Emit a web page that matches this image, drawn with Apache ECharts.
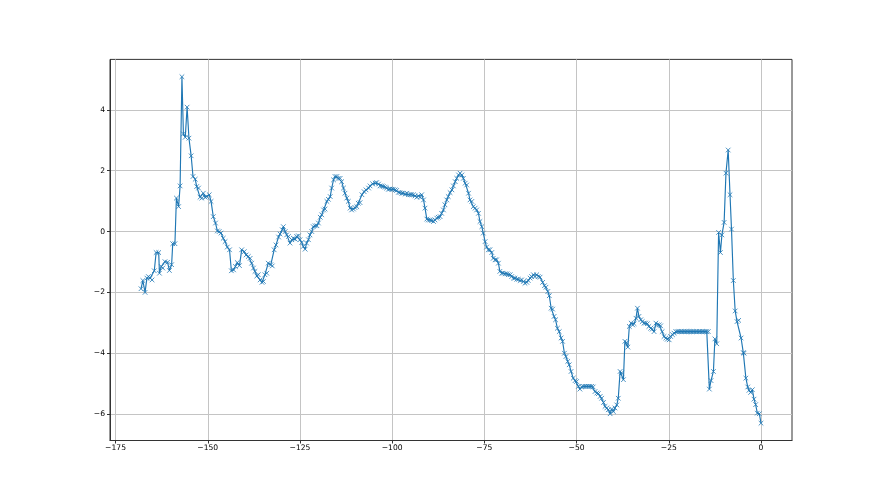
<!DOCTYPE html>
<html>
<head>
<meta charset="utf-8">
<script src="https://cdn.jsdelivr.net/npm/echarts@6/dist/echarts.min.js"></script>
<style>html,body{margin:0;padding:0;background:#fff;}#c{width:880px;height:495px;}</style>
</head>
<body>
<div id="c"></div>
<script>
const xs = [
-168.1,-167.6,-167.0,-166.5,-166.1,-165.6,-165.1,-164.5,-164.0,-163.3,-163.1,-162.6,-162.2,-161.6,-160.9,-160.4,-159.8,-159.5,-158.9,-158.5,
-157.9,-157.5,-157.0,-156.6,-156.1,-155.6,-155.1,-154.5,-154.0,-153.4,-153.0,-152.5,-152.1,-151.6,-151.2,-150.7,-150.3,-149.6,-149.1,-148.5,
-147.9,-147.4,-146.9,-146.4,-145.8,-145.3,-144.7,-144.1,-143.6,-143.0,-142.5,-142.0,-141.4,-140.8,-140.1,-139.6,-139.0,-138.5,-138.1,-137.6,
-137.2,-136.7,-136.3,-135.8,-135.3,-134.9,-134.5,-134.0,-133.6,-132.9,-132.5,-132.0,-131.5,-130.8,-130.4,-129.8,-129.5,-129.0,-128.6,-128.1,
-127.7,-127.2,-126.8,-126.3,-125.9,-125.4,-125.0,-124.5,-124.1,-123.6,-123.2,-122.7,-122.3,-121.8,-121.4,-120.9,-120.4,-120.0,-119.5,-119.1,
-118.6,-118.2,-117.7,-117.3,-116.8,-116.4,-115.9,-115.5,-115.0,-114.6,-114.1,-113.7,-113.2,-112.8,-112.3,-111.9,-111.4,-111.0,-110.5,-110.1,
-109.6,-109.2,-108.7,-108.2,-107.6,-107.1,-106.4,-106.0,-105.3,-104.6,-104.2,-103.7,-103.3,-102.8,-102.4,-101.9,-101.5,-101.0,-100.6,-100.1,
-99.7,-99.2,-98.8,-98.3,-97.9,-97.4,-97.0,-96.5,-96.0,-95.6,-95.1,-94.7,-94.2,-93.8,-93.3,-92.9,-92.4,-92.0,-91.5,-91.1,
-90.6,-90.2,-89.7,-89.3,-88.8,-88.4,-87.9,-87.5,-87.0,-86.6,-86.1,-85.7,-85.2,-84.8,-84.3,-83.8,-83.4,-82.9,-82.5,-82.0,
-81.6,-81.1,-80.7,-80.2,-79.8,-79.3,-78.9,-78.4,-78.0,-77.5,-77.1,-76.6,-76.2,-75.7,-75.3,-74.8,-74.4,-73.9,-73.5,-73.0,
-72.6,-72.1,-71.7,-71.2,-70.8,-70.3,-69.9,-69.4,-68.9,-68.5,-68.0,-67.6,-67.1,-66.7,-66.2,-65.8,-65.3,-64.9,-64.4,-64.0,
-63.5,-63.1,-62.6,-62.2,-61.7,-61.3,-60.8,-60.4,-59.9,-59.2,-58.7,-58.3,-57.8,-57.4,-56.9,-56.5,-56.1,-55.7,-55.2,-54.7,
-54.2,-53.8,-53.3,-52.9,-52.4,-52.0,-51.5,-50.9,-50.4,-50.0,-49.5,-49.1,-48.6,-48.2,-47.7,-47.3,-46.8,-46.4,-45.9,-45.5,
-45.0,-44.5,-44.1,-43.6,-43.2,-42.7,-42.3,-41.8,-41.4,-40.9,-40.5,-40.0,-39.6,-39.1,-38.7,-38.2,-37.8,-37.3,-36.9,-36.4,
-36.1,-35.7,-35.2,-34.8,-34.4,-33.9,-33.5,-33.1,-32.6,-32.2,-31.7,-31.3,-30.8,-30.4,-29.9,-29.5,-29.0,-28.5,-28.1,-27.6,
-27.2,-26.8,-26.3,-25.8,-25.4,-24.9,-24.5,-24.0,-23.6,-23.1,-22.7,-22.3,-21.9,-21.5,-21.1,-20.7,-20.3,-19.9,-19.5,-19.1,
-18.7,-18.3,-17.9,-17.5,-17.1,-16.7,-16.3,-15.9,-15.5,-15.1,-14.7,-14.3,-14.0,-13.55,-12.9,-12.5,-12.0,-11.5,-11.0,-10.6,
-10.0,-9.5,-8.9,-8.4,-8.0,-7.5,-7.0,-6.5,-6.05,-5.4,-4.8,-4.6,-4.1,-3.6,-3.25,-2.8,-2.35,-1.9,-1.45,-1.0,
-0.45,0.0
];
const ys = [
-1.88,-1.61,-2.00,-1.53,-1.48,-1.53,-1.59,-1.29,-0.69,-0.69,-1.37,-1.15,-1.20,-0.99,-1.01,-1.28,-1.09,-0.40,-0.40,1.10,
0.82,1.50,5.09,3.21,3.10,4.09,3.07,2.49,1.81,1.72,1.48,1.43,1.13,1.10,1.26,1.13,1.15,1.21,0.99,0.49,
0.28,0.02,0.00,-0.05,-0.22,-0.33,-0.51,-0.60,-1.29,-1.26,-1.15,-1.02,-1.12,-0.60,-0.66,-0.77,-0.82,-0.88,-1.04,-1.20,
-1.31,-1.46,-1.42,-1.59,-1.67,-1.64,-1.42,-1.37,-1.04,-1.09,-1.13,-0.60,-0.44,-0.18,-0.08,0.06,0.16,0.00,-0.11,-0.16,
-0.38,-0.27,-0.22,-0.25,-0.16,-0.14,-0.27,-0.36,-0.49,-0.58,-0.38,-0.27,-0.11,0.00,0.16,0.19,0.19,0.28,0.47,0.55,
0.71,0.74,0.99,1.06,1.15,1.43,1.70,1.81,1.81,1.75,1.75,1.64,1.43,1.26,1.10,0.99,0.77,0.71,0.74,0.79,
0.82,0.93,0.95,1.21,1.31,1.37,1.43,1.50,1.57,1.59,1.61,1.56,1.50,1.50,1.48,1.46,1.43,1.39,1.40,1.39,
1.39,1.37,1.35,1.29,1.28,1.26,1.26,1.23,1.26,1.21,1.21,1.21,1.21,1.17,1.13,1.17,1.13,1.21,1.04,0.77,
0.41,0.38,0.38,0.36,0.33,0.38,0.44,0.47,0.49,0.60,0.71,0.88,1.04,1.15,1.28,1.37,1.50,1.64,1.75,1.86,
1.92,1.86,1.75,1.59,1.53,1.26,1.04,0.99,0.82,0.77,0.71,0.60,0.33,0.16,-0.05,-0.33,-0.51,-0.60,-0.60,-0.69,
-0.88,-0.93,-0.93,-1.04,-1.31,-1.37,-1.37,-1.39,-1.39,-1.42,-1.42,-1.48,-1.53,-1.53,-1.57,-1.57,-1.61,-1.59,-1.64,-1.70,
-1.67,-1.61,-1.53,-1.48,-1.42,-1.48,-1.42,-1.48,-1.50,-1.67,-1.78,-1.83,-1.97,-2.11,-2.52,-2.55,-2.79,-2.90,-3.18,-3.29,
-3.50,-3.61,-4.00,-4.11,-4.27,-4.38,-4.60,-4.82,-4.90,-4.93,-5.09,-5.18,-5.11,-5.09,-5.09,-5.09,-5.09,-5.09,-5.09,-5.11,
-5.26,-5.31,-5.33,-5.42,-5.48,-5.62,-5.75,-5.80,-5.86,-5.99,-5.84,-5.92,-5.80,-5.70,-5.48,-4.60,-4.65,-4.87,-3.61,-3.65,
-3.80,-3.12,-3.01,-3.07,-3.03,-2.85,-2.52,-2.79,-2.90,-2.96,-3.01,-3.01,-3.03,-3.12,-3.18,-3.21,-3.29,-3.01,-3.07,-3.07,
-3.10,-3.29,-3.45,-3.50,-3.54,-3.56,-3.45,-3.39,-3.34,-3.29,-3.29,-3.29,-3.29,-3.29,-3.29,-3.29,-3.29,-3.29,-3.29,-3.29,
-3.29,-3.29,-3.29,-3.29,-3.29,-3.29,-3.29,-3.29,-3.29,-3.29,-3.29,-3.29,-5.18,-4.90,-4.60,-3.53,-3.69,-0.03,-0.69,-0.11,
0.30,1.92,2.68,1.21,0.08,-1.61,-2.61,-2.96,-2.92,-3.50,-3.98,-4.00,-4.82,-5.11,-5.22,-5.29,-5.20,-5.51,-5.69,-5.97,
-5.99,-6.30
];
const xTicks = [-175, -150, -125, -100, -75, -50, -25, 0];
const yTicks = [-6, -4, -2, 0, 2, 4];

const data = xs.map((x, i) => [x, ys[i]]);
const xMinD = Math.min(...xs), xMaxD = Math.max(...xs);
const yMinD = Math.min(...ys), yMaxD = Math.max(...ys);
const mx = (xMaxD - xMinD) * 0.05, my = (yMaxD - yMinD) * 0.05;
const fmt = v => String(Math.round(v)).replace('-', '\u2212');

const axisCol = '#333';
const font = 'DejaVu Sans';
const chart = echarts.init(document.getElementById('c'), null, {renderer: 'canvas'});
chart.setOption({
  animation: false,
  backgroundColor: '#fff',
  grid: {left: 110, right: 88, top: 59.4, bottom: 54.5, show: true, borderColor: axisCol, borderWidth: 1, backgroundColor: 'transparent'},
  xAxis: {
    type: 'value', min: xMinD - mx, max: xMaxD + mx,
    axisLine: {show: true, onZero: false, lineStyle: {color: axisCol, width: 1}},
    axisTick: {show: true, length: 3, customValues: xTicks, lineStyle: {color: axisCol, width: 1}},
    axisLabel: {customValues: xTicks, formatter: fmt, color: '#000', fontFamily: font, fontSize: 7.6, margin: 4},
    splitLine: {show: true, lineStyle: {color: '#c4c4c4', width: 1}}
  },
  yAxis: {
    type: 'value', min: yMinD - my, max: yMaxD + my,
    axisLine: {show: true, onZero: false, lineStyle: {color: axisCol, width: 1}},
    axisTick: {show: true, length: 3, customValues: yTicks, lineStyle: {color: axisCol, width: 1}},
    axisLabel: {customValues: yTicks, formatter: fmt, color: '#000', fontFamily: font, fontSize: 7.6, margin: 5},
    splitLine: {show: true, lineStyle: {color: '#c4c4c4', width: 1}}
  },
  series: [{
    type: 'line', data: data,
    symbol: 'path://M0,0L10,10M10,0L0,10', symbolSize: 4.6, showSymbol: true,
    itemStyle: {color: '#1f77b4', borderColor: '#1f77b4', borderWidth: 0.8},
    lineStyle: {color: '#1f77b4', width: 1.15},
    emphasis: {disabled: true}
  }]
});
</script>
</body>
</html>
